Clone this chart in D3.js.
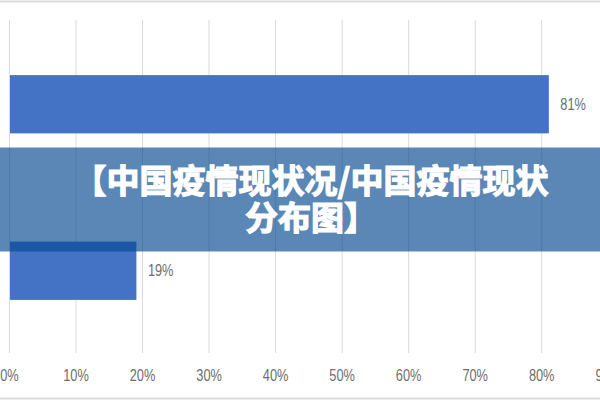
<!DOCTYPE html>
<html lang="zh">
<head>
  <meta charset="UTF-8">
  <title>中国疫情现状分布图</title>
  <script src="https://d3js.org/d3.v7.min.js"></script>
  <style>
    body {
      margin: 0;
      background: #fff;
    }
    .tick-label, .bar-label {
      fill: #6e6e6e;
      font-family: "Liberation Sans", sans-serif;
      font-size: 16px;
    }
    .title {
      fill: #fff;
      stroke: #fff;
      stroke-width: 1.2px;
      font-family: "Noto Sans CJK SC", sans-serif;
      font-weight: 700;
      font-size: 33px;
    }
  </style>
</head>
<body>
  <div id="chart"></div>
  <script>
    const categories = ["类别1", "类别2"];
    const values = [81, 19];
    const tickValues = [0, 10, 20, 30, 40, 50, 60, 70, 80, 90];
    const titleLines = ["【中国疫情现状况/中国疫情现状", "分布图】"];

    const width = 600, height = 400;
    const narrow = 0.8; // labels in the picture use a condensed face

    const svg = d3.select("#chart")
      .append("svg")
      .attr("width", width)
      .attr("height", height);

    const x = d3.scaleLinear().domain([0, 80]).range([9.5, 541.7]);
    const y = d3.scaleBand().domain(categories).range([21, 354]).padding(0);
    const barH = y.bandwidth() * 0.35;

    // frame lines top and bottom
    svg.append("line")
      .attr("x1", 0).attr("x2", width)
      .attr("y1", 1.5).attr("y2", 1.5)
      .attr("stroke", "#dcdcdc").attr("stroke-width", 2);
    svg.append("line")
      .attr("x1", 0).attr("x2", width)
      .attr("y1", 398.5).attr("y2", 398.5)
      .attr("stroke", "#dcdcdc").attr("stroke-width", 2);

    // gridlines
    svg.append("g")
      .selectAll("line")
      .data(tickValues)
      .enter().append("line")
      .attr("x1", d => x(d)).attr("x2", d => x(d))
      .attr("y1", 20).attr("y2", 353)
      .attr("stroke", "#d9d9d9")
      .attr("stroke-width", 1);

    // tick labels
    svg.append("g")
      .selectAll("text")
      .data(tickValues)
      .enter().append("text")
      .attr("class", "tick-label")
      .attr("transform", d => "translate(" + x(d) + ",375) scale(" + narrow + ",1)")
      .attr("dy", "0.35em")
      .attr("text-anchor", "middle")
      .text(d => d + "%");

    // bars
    svg.append("g")
      .selectAll("rect")
      .data(values)
      .enter().append("rect")
      .attr("x", x(0) + 0.5)
      .attr("y", (d, i) => y(categories[i]) + (y.bandwidth() - barH) / 2)
      .attr("width", d => x(d) - x(0))
      .attr("height", barH)
      .attr("fill", "#4472c4");

    svg.append("g")
      .selectAll("text")
      .data(values)
      .enter().append("text")
      .attr("class", "bar-label")
      .attr("transform", (d, i) => "translate(" + (x(d) + 12) + "," + (y(categories[i]) + y.bandwidth() / 2) + ") scale(" + narrow + ",1)")
      .attr("dy", "0.35em")
      .text(d => d + "%");

    // title banner
    svg.append("rect")
      .attr("x", 0).attr("y", 147.5)
      .attr("width", width).attr("height", 104)
      .attr("fill", "rgb(6,73,145)")
      .attr("fill-opacity", 0.66);

    svg.append("g")
      .selectAll("text")
      .data(titleLines)
      .enter().append("text")
      .attr("class", "title")
      .attr("x", 311)
      .attr("y", (d, i) => 181 + i * 37)
      .attr("dy", "0.35em")
      .attr("text-anchor", "middle")
      .text(d => d);
  </script>
</body>
</html>
